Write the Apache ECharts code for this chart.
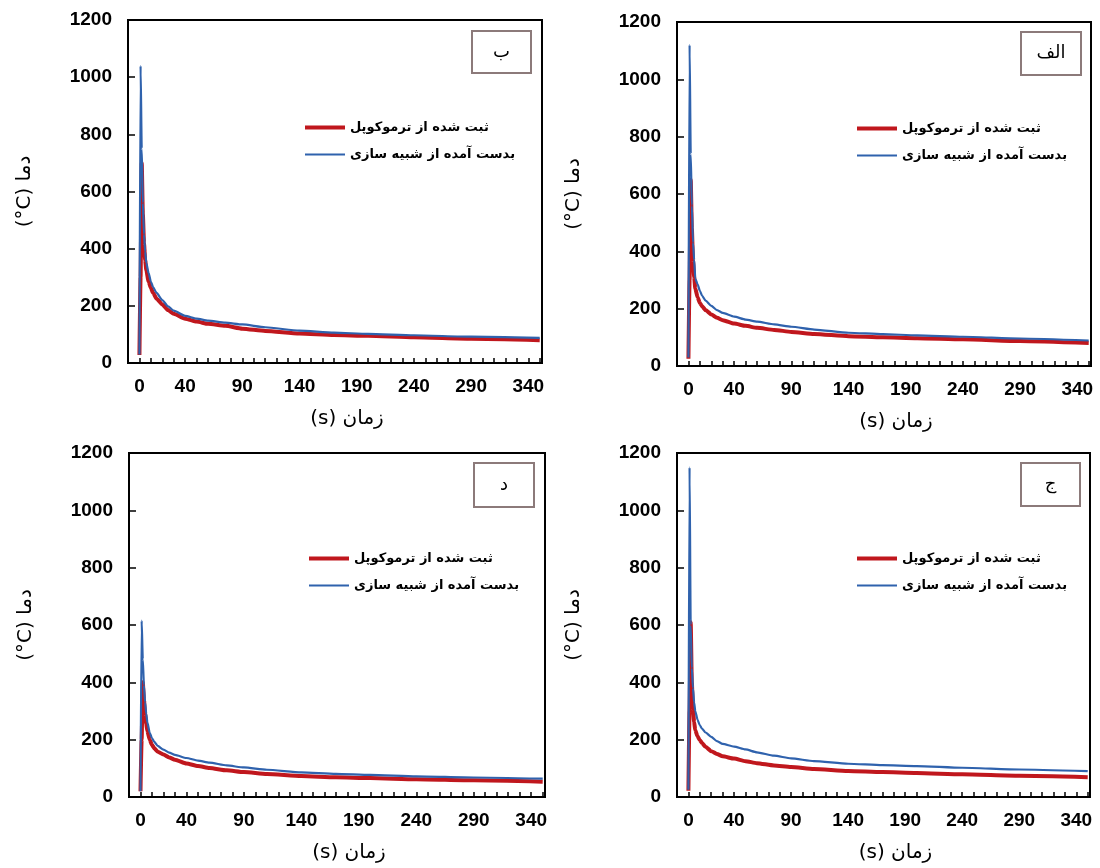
<!DOCTYPE html>
<html>
<head>
<meta charset="utf-8">
<script src="https://cdn.jsdelivr.net/npm/echarts@6/dist/echarts.min.js"></script>
<style>
html,body{margin:0;padding:0;background:#fff;}
#chart{width:1100px;height:868px;}
</style>
</head>
<body>
<div id="chart"></div>
<script>
// ---- data (time in s, temperature in °C) ----
const times = [0,1,2,3,4,5,6,8,10,12,15,20,25,30,40,50,60,75,90,110,140,170,200,240,290,350];

// panel ب (top-left)
const bRed  = [28,300,700,520,420,360,325,285,262,245,225,205,185,172,155,145,137,130,120,112,103,98,95,90,85,80];
const bBlue = [30,1040,750,560,450,390,350,315,285,265,245,220,198,183,165,155,148,141,135,125,113,106,102,97,92,88];
// panel الف (top-right)
const aRed  = [25,300,650,480,370,310,270,240,220,208,195,180,168,160,148,140,133,126,119,112,104,100,97,93,87,80];
const aBlue = [30,1120,740,560,430,370,305,285,262,245,228,210,195,185,172,162,155,145,137,127,116,111,107,102,96,89];
// panel د (bottom-left)
const dRed  = [20,200,400,340,290,255,230,200,182,170,158,148,138,130,117,108,101,93,87,80,73,69,66,62,58,53];
const dBlue = [20,615,480,390,330,290,260,225,205,192,178,165,155,147,136,127,120,110,103,95,86,81,77,72,68,64];
// panel ج (bottom-right)
const jRed  = [22,300,610,400,310,262,233,212,198,188,175,160,150,142,134,125,118,110,105,98,91,87,84,79,74,69];
const jBlue = [25,1150,600,450,380,330,300,270,250,238,225,210,195,185,176,166,156,144,135,125,116,111,108,102,96,90];

const xTickLabels = [0,40,90,140,190,240,290,340];
const yTicks = [0,200,400,600,800,1000,1200];
const seriesNames = ['ثبت شده از ترموکوپل','بدست آمده از شبیه سازی'];
const panelLetters = ['ب','الف','د','ج'];
const xName = '(s) زمان';
const yName = '(°C) دما';

// ---- layout ----
const panels = [
  {grid:{left:128,top:20,width:414,height:343}, red:bRed, blue:bBlue, legend:{left:303,top:121}, box:[472,31,59,42]},
  {grid:{left:677,top:22,width:414,height:344}, red:aRed, blue:aBlue, legend:{left:855,top:122}, box:[1021,32,60,43]},
  {grid:{left:129,top:453,width:416,height:344}, red:dRed, blue:dBlue, legend:{left:307,top:552}, box:[474,463,60,44]},
  {grid:{left:677,top:453,width:413,height:344}, red:jRed, blue:jBlue, legend:{left:855,top:552}, box:[1021,463,59,43]}
];

const RED = '#C0171D';
const BLUE = '#2F62AD';
const latin = 'Liberation Sans, DejaVu Sans, sans-serif';
const arab = 'DejaVu Sans, Liberation Sans, sans-serif';

const grids=[], xAxes=[], yAxes=[], series=[], legends=[], graphics=[];
panels.forEach((p,i)=>{
  grids.push(Object.assign({show:true,borderColor:'#000',borderWidth:2,backgroundColor:'#fff'},p.grid));
  xAxes.push({
    type:'value', gridIndex:i, min:-10, max:352, interval:10,
    name:xName, nameLocation:'middle', nameGap:46,
    nameTextStyle:{fontSize:20,color:'#000',fontFamily:arab,padding:[0,0,0,24]},
    axisLine:{show:true,onZero:false,lineStyle:{color:'#000',width:2}},
    axisTick:{show:true,inside:true,length:5,lineStyle:{color:'#000',width:1.5}},
    axisLabel:{color:'#000',fontSize:19,fontWeight:'bold',fontFamily:latin,margin:14,
      formatter:v=> xTickLabels.indexOf(v)>=0 ? String(v) : ''},
    splitLine:{show:false}
  });
  yAxes.push({
    type:'value', gridIndex:i, min:yTicks[0], max:yTicks[yTicks.length-1], interval:200,
    name:yName, nameLocation:'middle', nameGap:93, nameRotate:90,
    nameTextStyle:{fontSize:20,color:'#000',fontFamily:arab},
    axisLine:{show:true,onZero:false,lineStyle:{color:'#000',width:2}},
    axisTick:{show:true,inside:true,length:7,lineStyle:{color:'#000',width:1.5}},
    axisLabel:{color:'#000',fontSize:19,fontWeight:'bold',fontFamily:latin,margin:16,
      formatter:v=>String(v)},
    splitLine:{show:false}
  });
  series.push({
    name:seriesNames[0], type:'line', xAxisIndex:i, yAxisIndex:i,
    data:times.map((t,k)=>[t,p.red[k]]), showSymbol:false, symbol:'none',
    smooth:0.2, smoothMonotone:'x',
    lineStyle:{color:RED,width:4}, itemStyle:{color:RED}, z:2
  });
  series.push({
    name:seriesNames[1], type:'line', xAxisIndex:i, yAxisIndex:i,
    data:times.map((t,k)=>[t,p.blue[k]]), showSymbol:false, symbol:'none',
    smooth:0.2, smoothMonotone:'x',
    lineStyle:{color:BLUE,width:2.2}, itemStyle:{color:BLUE}, z:3
  });
  legends.push({
    orient:'vertical', left:p.legend.left, top:p.legend.top,
    itemWidth:40, itemHeight:14, itemGap:14, padding:0,
    textStyle:{fontSize:13,fontWeight:'bold',color:'#000',fontFamily:arab},
    itemStyle:{opacity:0},
    data:[
      {name:seriesNames[0], itemStyle:{opacity:0}, lineStyle:{color:RED,width:4}},
      {name:seriesNames[1], itemStyle:{opacity:0}, lineStyle:{color:BLUE,width:2}}
    ],
    selectedMode:false
  });
  const b=p.box;
  graphics.push({type:'rect',shape:{x:b[0],y:b[1],width:b[2],height:b[3]},
    style:{fill:'#fff',stroke:'#8C7A7A',lineWidth:2},z:100});
  graphics.push({type:'text',x:b[0]+b[2]/2,y:b[1]+b[3]/2,
    style:{text:panelLetters[i],fill:'#000',fontSize:18,fontFamily:arab,align:'center',verticalAlign:'middle'},z:101});
});

const chart = echarts.init(document.getElementById('chart'),null,{renderer:'canvas'});
chart.setOption({
  animation:false,
  backgroundColor:'#fff',
  grid:grids, xAxis:xAxes, yAxis:yAxes, series:series, legend:legends,
  graphic:graphics
});
</script>
</body>
</html>
